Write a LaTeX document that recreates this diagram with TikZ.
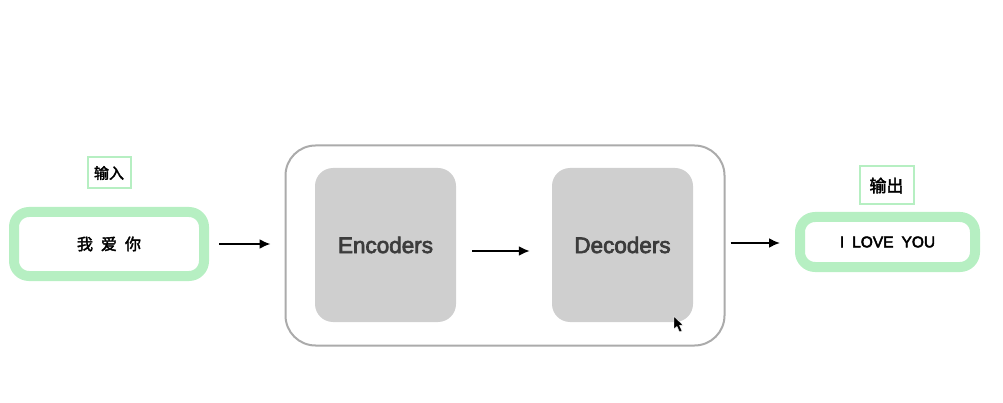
\documentclass[tikz,border=0pt]{standalone}
\usepackage{fontspec}
\setsansfont{Liberation Sans}[FakeBold=3]
\newfontfamily\cjk{Noto Sans CJK SC}[FakeBold=2.5]
\usetikzlibrary{arrows.meta}
\definecolor{boxgreen}{HTML}{B6EFC2}
\definecolor{blockgrey}{HTML}{CFCFCF}
\definecolor{framegrey}{HTML}{ABABAB}
\definecolor{blocktext}{HTML}{3C3C3C}
\tikzset{
  textbox/.style={draw=boxgreen,line width=10pt,rounded corners=15pt,inner sep=0pt,fill=white,font=\sffamily},
  tagbox/.style={draw=boxgreen,line width=2pt,inner sep=0pt,font=\cjk},
  block/.style={fill=blockgrey,rounded corners=18pt,minimum width=141pt,minimum height=154pt,inner sep=0pt,
    text=blocktext,font=\sffamily\fontsize{22.5}{26}\selectfont},
  flow/.style={-{Latex[length=11pt,width=10pt]},line width=2pt,black}
}
\begin{document}
\begin{tikzpicture}[x=1pt,y=-1pt]
  \useasboundingbox (0,0) rectangle (1003,403);

  \node[draw=framegrey,line width=2pt,rounded corners=30pt,minimum width=439pt,minimum height=200pt,inner sep=0pt] (model) at (505,245.5) {};
  \node[block] (encoders) at (385.5,245) {Encoders};
  \node[block] (decoders) at (622.5,245) {Decoders};

  \node[textbox,minimum width=190pt,minimum height=64pt] (inbox) at (109,244) {\cjk\fontsize{16}{18}\selectfont 我\hspace{8pt}爱\hspace{8pt}你};
  \node[tagbox,minimum width=43pt,minimum height=31pt] (intag) at (109,173) {\fontsize{15}{18}\selectfont 输入};

  \node[textbox,minimum width=175pt,minimum height=50pt] (outbox) at (887.5,242) {\fontsize{15.5}{18}\selectfont I\hspace{8pt}LOVE\hspace{8pt}YOU};
  \node[tagbox,minimum width=54pt,minimum height=38pt] (outtag) at (886.5,185.5) {\fontsize{17}{20}\selectfont 输出};

  \path [flow]
        (inbox.east) edge [shorten <=10pt,shorten >=14pt] (inbox.east -| model.west)
        ([yshift=-6pt]encoders.east) edge [shorten <=16pt,shorten >=22pt] ([yshift=-6pt]decoders.west)
        ([yshift=-1pt]outbox.west -| model.east) edge [shorten <=5pt,shorten >=15pt] ([yshift=-1pt]outbox.west);

  % pointer
  \fill[black,draw=white,line width=0.4pt] (674,316.5) -- (674,329) -- (677,326.5) -- (679.5,332) -- (682,331) -- (679.5,325.5) -- (683,325) -- cycle;
\end{tikzpicture}
\end{document}
